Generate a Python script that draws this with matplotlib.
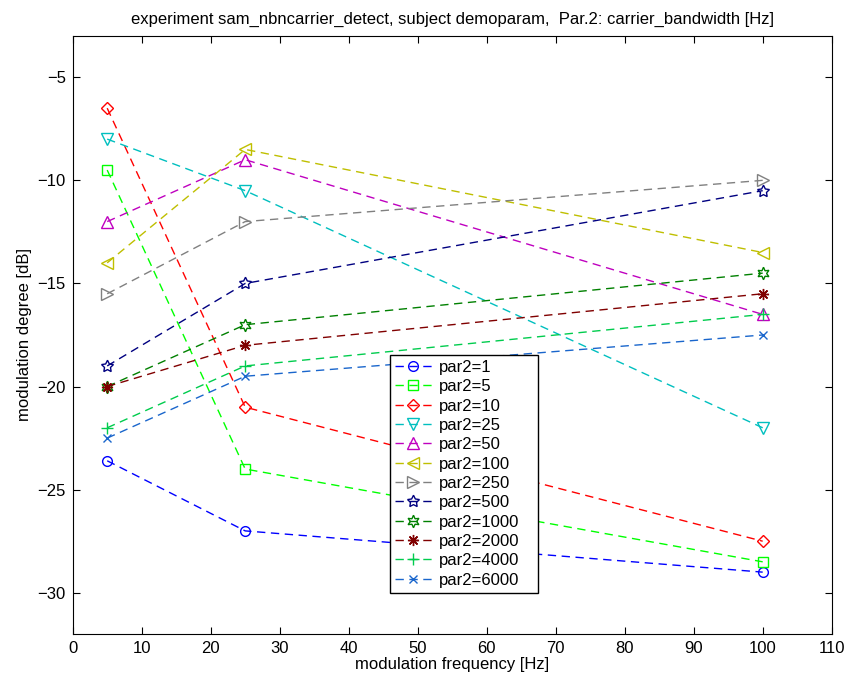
import numpy as np
import matplotlib.pyplot as plt

plt.rcParams['font.family'] = ['Liberation Sans', 'DejaVu Sans']

# data
freq = [5, 25, 100]
labels = ["par2=1", "par2=5", "par2=10", "par2=25", "par2=50", "par2=100",
          "par2=250", "par2=500", "par2=1000", "par2=2000", "par2=4000", "par2=6000"]
values = [
    [-23.6, -27.0, -29.0],
    [-9.5, -24.0, -28.5],
    [-6.5, -21.0, -27.5],
    [-8.0, -10.5, -22.0],
    [-12.0, -9.0, -16.5],
    [-14.0, -8.5, -13.5],
    [-15.5, -12.0, -10.0],
    [-19.0, -15.0, -10.5],
    [-20.0, -17.0, -14.5],
    [-20.0, -18.0, -15.5],
    [-22.0, -19.0, -16.5],
    [-22.5, -19.5, -17.5],
]

colors = [(0, 0, 1), (0, 1, 0), (1, 0, 0), (0, 0.75, 0.75), (0.75, 0, 0.75),
          (0.75, 0.75, 0), (0.5, 0.5, 0.5), (0, 0, 0.5), (0, 0.5, 0),
          (0.5, 0, 0), (0, 0.8, 0.3), (0.1, 0.4, 0.8)]
markers = ['o', 's', 'D', 'v', '^', '<', '>', (5, 1, 0), (6, 1, 0), (8, 2, 0), '+', 'x']
msizes = [7, 7, 6.5, 8, 8, 8, 8, 9, 9, 8, 8, 6]

fig = plt.figure(figsize=(8.49, 6.82), dpi=100)
ax = fig.add_axes([72.7 / 849, 1 - 634 / 682, 759 / 849, 598 / 682])

for i in range(len(labels)):
    ax.plot(freq, values[i], color=colors[i], linestyle=(0, (6, 4)), linewidth=1,
            marker=markers[i], markersize=msizes[i], markerfacecolor='none',
            markeredgecolor=colors[i], markeredgewidth=1, label=labels[i])

ax.set_xlim(0, 110)
ax.set_ylim(-32, -3)
ax.set_xticks(np.arange(0, 111, 10))
ax.set_yticks([-30, -25, -20, -15, -10, -5])
ax.tick_params(direction='in', top=True, right=True, labelsize=12, length=5, pad=5)
ax.set_xlabel("modulation frequency [Hz]", fontsize=12, labelpad=1)
ax.set_ylabel("modulation degree [dB]", fontsize=12, labelpad=4)
ax.set_title("experiment sam_nbncarrier_detect, subject demoparam,  Par.2: carrier_bandwidth [Hz]",
             fontsize=12, pad=9)

# legend box: left 390px, top 355px, width 148px (MATLAB leaves room right of the text)
lx = (390 - 72.7) / 759
ltop = (634 - 355) / 598
lw = 148 / 759
leg = ax.legend(loc='upper left', bbox_to_anchor=(lx, ltop - 0.5, lw, 0.5), mode='expand',
                fontsize=12, frameon=True, fancybox=False, framealpha=1,
                edgecolor='black', borderpad=0.3, labelspacing=0.26,
                handlelength=2.2, handletextpad=0.45, borderaxespad=0)
leg.get_frame().set_linewidth(1)

fig.savefig("out.png", dpi=100)
